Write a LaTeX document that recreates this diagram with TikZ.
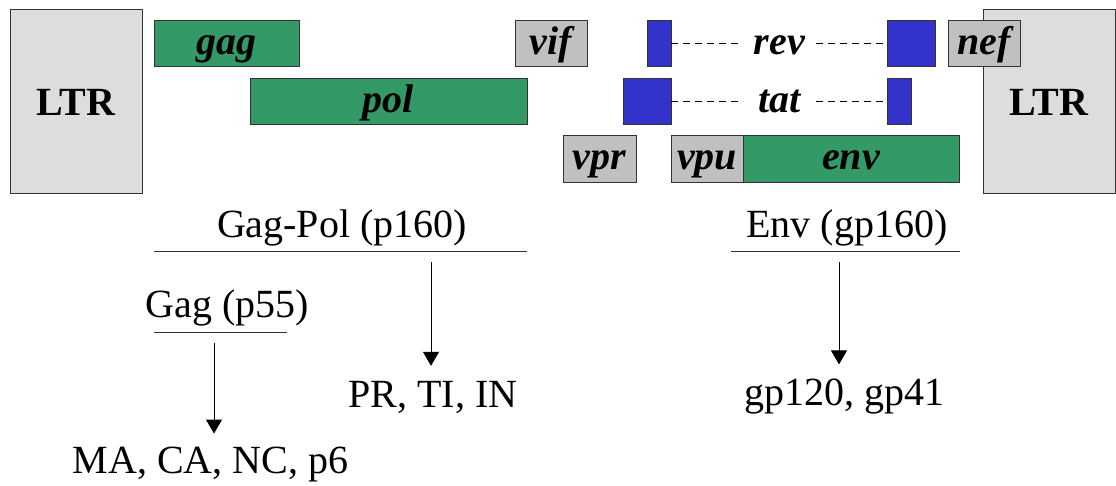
\documentclass[tikz,border=0pt]{standalone}
\usepackage{fontspec}
\setmainfont{Liberation Serif}
\usetikzlibrary{arrows.meta}
\definecolor{genegreen}{HTML}{339966}
\definecolor{geneblue}{HTML}{3333CC}
\definecolor{genegray}{HTML}{C0C0C0}
\definecolor{ltrgray}{HTML}{DDDDDD}
\definecolor{edgegray}{HTML}{333333}
\begin{document}
\begin{tikzpicture}[x=1pt,y=-1pt,
  genebox/.style={draw=edgegray, line width=1pt, inner sep=0pt, outer sep=0pt,
    anchor=north west, text height=28pt, text depth=6pt,
    font=\fontsize{40}{48}\selectfont\bfseries\itshape},
  greenbox/.style={genebox, fill=genegreen},
  graybox/.style={genebox, fill=genegray},
  bluebox/.style={genebox, fill=geneblue},
  ltrbox/.style={genebox, fill=ltrgray, font=\fontsize{40}{48}\selectfont\bfseries,
    text height=30pt, text depth=2pt},
  genetext/.style={inner sep=0pt, outer sep=0pt, text height=28pt, text depth=6pt,
    font=\fontsize{40}{48}\selectfont\bfseries\itshape},
  dashline/.style={line width=0.9pt, dash pattern=on 7pt off 5pt},
  prot/.style={inner sep=0pt, outer sep=0pt, anchor=base, font=\fontsize{40}{48}\selectfont},
  rule/.style={line width=1pt, draw=edgegray},
  arr/.style={line width=1pt, -{Triangle[width=16pt,length=14pt]}}
]
\useasboundingbox (0,0) rectangle (1116,485);

% LTRs
\node[ltrbox, minimum width=132pt, minimum height=184pt] (ltrL) at (10,9) {LTR};
\node[ltrbox, minimum width=132pt, minimum height=184pt] (ltrR) at (983,9) {LTR};

% row 1
\node[greenbox, minimum width=145pt, minimum height=46pt] (gag) at (154,20) {gag};
\node[graybox, minimum width=72pt, minimum height=46pt] (vif) at (515,20) {vif};
\node[bluebox, minimum width=24pt, minimum height=46pt] (revL) at (647,20) {};
\node[bluebox, minimum width=48pt, minimum height=46pt] (revR) at (887,20) {};
\node[graybox, minimum width=72pt, minimum height=46pt] (nef) at (948,20) {nef};
\node[genetext, minimum width=73pt] (revT) at (779.5,43) {rev};
\draw[dashline] (revL.east) -- (revT.west);
\draw[dashline] (revT.east) -- (revR.west);

% row 2
\node[greenbox, minimum width=277pt, minimum height=46pt] (pol) at (250,78) {pol};
\node[bluebox, minimum width=48pt, minimum height=46pt] (tatL) at (623,78) {};
\node[bluebox, minimum width=24pt, minimum height=46pt] (tatR) at (887,78) {};
\node[genetext, minimum width=73pt] (tatT) at (779.5,101) {tat};
\draw[dashline] (tatL.east) -- (tatT.west);
\draw[dashline] (tatT.east) -- (tatR.west);

% row 3
\node[graybox, minimum width=73pt, minimum height=47pt] (vpr) at (563,135) {vpr};
\node[graybox, minimum width=72pt, minimum height=47pt] (vpu) at (671,135) {vpu};
\node[greenbox, minimum width=216pt, minimum height=47pt] (env) at (743,135) {env};

% products
\node[prot] (gagpol) at (342,237) {Gag-Pol (p160)};
\coordinate (gpA) at (154,251);
\coordinate (gpB) at (527,251);
\draw[rule] (gpA) -- (gpB);

\node[prot] (envp) at (847,237) {Env (gp160)};
\coordinate (enA) at (731,251);
\coordinate (enB) at (960,251);
\draw[rule] (enA) -- (enB);

\node[prot] (gagp) at (227,317) {Gag (p55)};
\coordinate (gaA) at (154,332);
\coordinate (gaB) at (287,332);
\draw[rule] (gaA) -- (gaB);

\node[prot] (prti) at (433,407) {PR, TI, IN};
\node[prot] (gp) at (844.5,405) {gp120, gp41};
\node[prot] (maca) at (210.5,473) {MA, CA, NC, p6};

\coordinate (s1) at (431,262);
\coordinate (s2) at (839,262);
\coordinate (s3) at (214,343);
\draw[arr, shorten >=15pt] (s1) -- (s1 |- prti.north);
\draw[arr, shorten >=14pt] (s2) -- (s2 |- gp.north);
\draw[arr, shorten >=13pt] (s3) -- (s3 |- maca.north);
\end{tikzpicture}
\end{document}
